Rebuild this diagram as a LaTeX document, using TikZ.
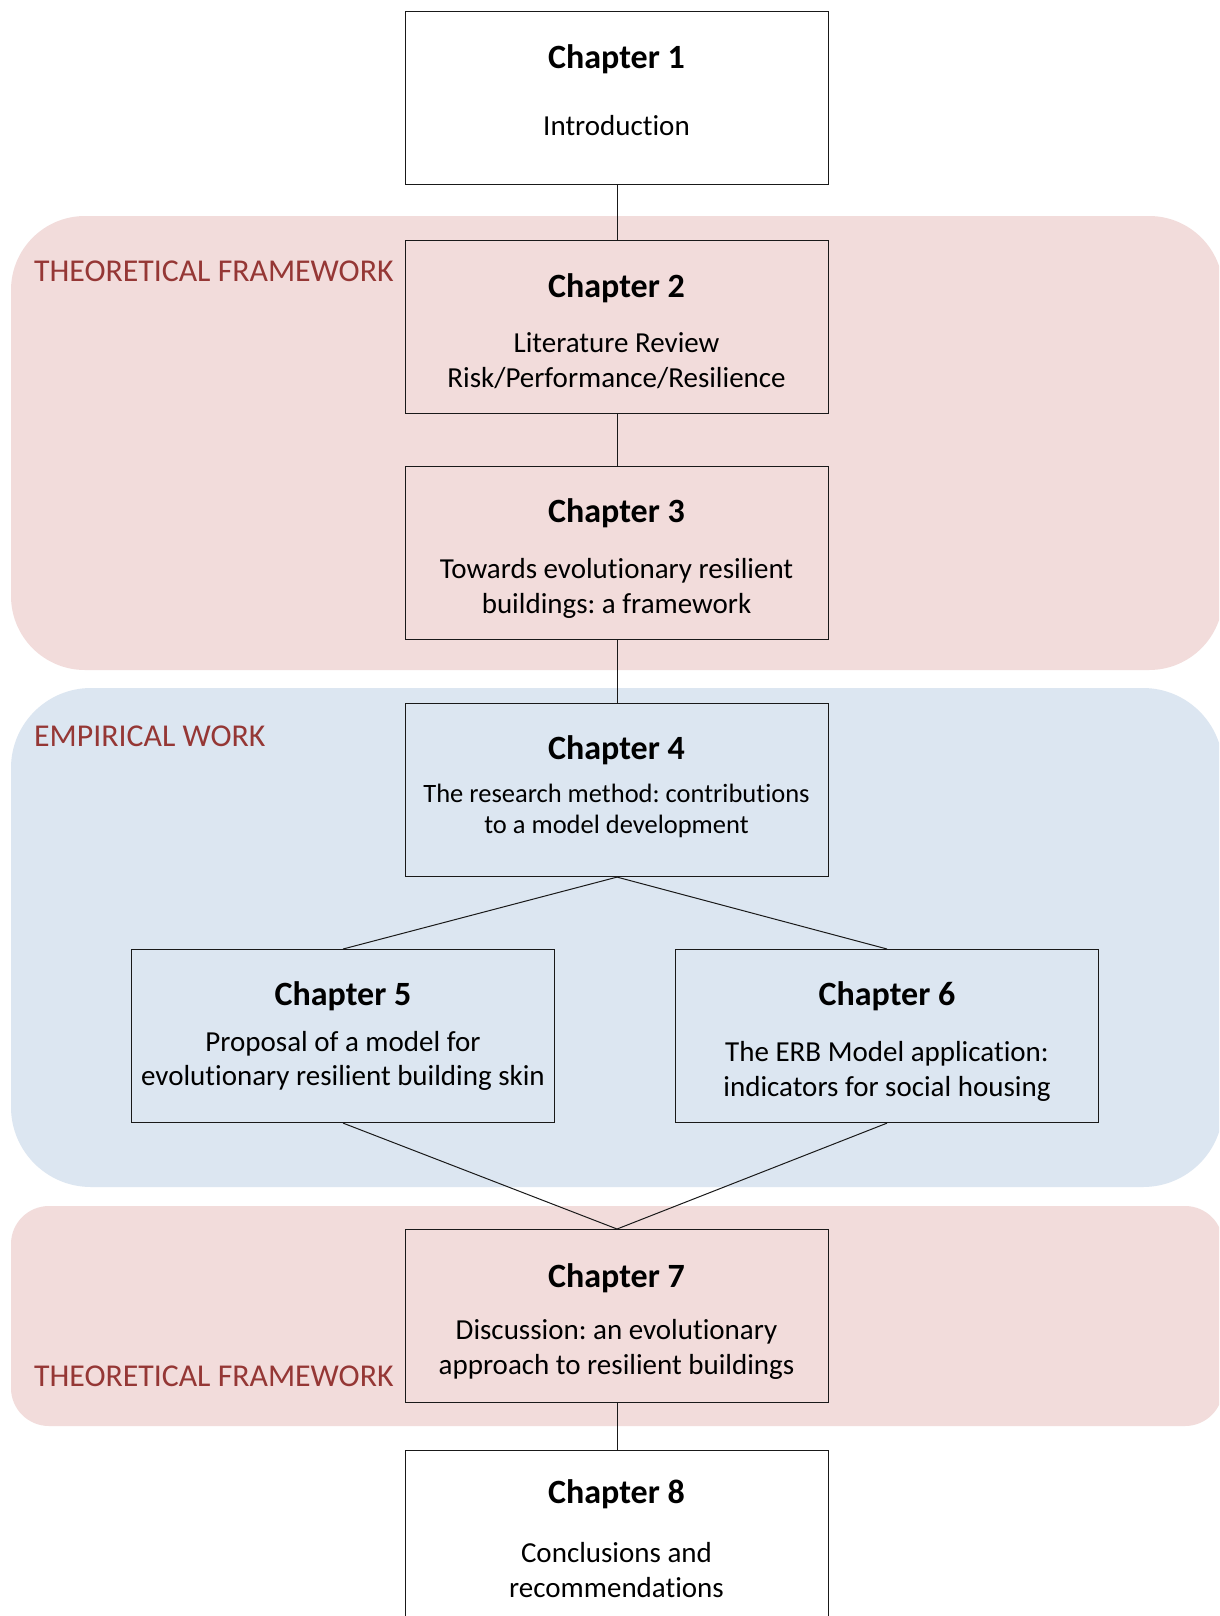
\documentclass[tikz,border=0pt]{standalone}
\usepackage{fontspec}
\setmainfont{Carlito}[Ligatures={NoCommon}]
\definecolor{pinkbg}{HTML}{F2DCDB}
\definecolor{bluebg}{HTML}{DCE6F1}
\definecolor{labred}{HTML}{953735}
\frenchspacing
\tikzset{
  chbox/.style={draw=black!90, line width=1.1pt, minimum width=423pt, minimum height=173pt, inner sep=0pt, anchor=north west},
  title/.style={font=\frenchspacing\bfseries\fontsize{34}{40}\selectfont, anchor=base, inner sep=0pt},
  body/.style={font=\frenchspacing\fontsize{29}{35}\selectfont, anchor=base, inner sep=0pt},
  smallbody/.style={font=\frenchspacing\fontsize{26.5}{32}\selectfont, anchor=base, inner sep=0pt},
  region/.style={font=\fontsize{31.8}{38}\selectfont, text=labred, anchor=base west, inner sep=0pt},
  conn/.style={draw=black!90, line width=1pt}
}
\begin{document}
\begin{tikzpicture}[x=1pt,y=-1pt]
\clip (0,0) rectangle (1219,1616);
\fill[white] (0,0) rectangle (1219,1616);
% background regions
\fill[pinkbg, rounded corners=74pt] (11,216) rectangle (1223,670);
\fill[bluebg, rounded corners=80pt] (11,688) rectangle (1223,1187);
\fill[pinkbg, rounded corners=38pt] (11,1206) rectangle (1223,1426);
\node[region] (lab1) at (34,281) {THEORETICAL FRAMEWORK};
\node[region] (lab2) at (34,746) {EMPIRICAL WORK};
\node[region] (lab3) at (34,1386) {THEORETICAL FRAMEWORK};
% boxes
\node[chbox, fill=white] (b1) at (405,11) {};
\node[chbox] (b2) at (405,240) {};
\node[chbox] (b3) at (405,466) {};
\node[chbox] (b4) at (405,703) {};
\node[chbox] (b5) at (131,949) {};
\node[chbox] (b6) at (675,949) {};
\node[chbox] (b7) at (405,1229) {};
\node[chbox, fill=white, minimum height=180pt] (b8) at (405,1450) {};
% connectors
\draw[conn] (b1.south) -- (b2.north);
\draw[conn] (b2.south) -- (b3.north);
\draw[conn] (b3.south) -- (b4.north);
\draw[conn] (b4.south) -- (b5.north);
\draw[conn] (b4.south) -- (b6.north);
\draw[conn] (b5.south) -- (b7.north);
\draw[conn] (b6.south) -- (b7.north);
\draw[conn] (b7.south) -- (b8.north);
% texts
\node[title] (t1) at (616.5,69) {Chapter 1};
\node[body] (t1a) at (616.5,136) {Introduction};
\node[title] (t2) at (616.5,297) {Chapter 2};
\node[body] (t2a) at (616.5,352) {Literature Review};
\node[body] (t2b) at (616.5,387) {Risk/Performance/Resilience};
\node[title] (t3) at (616.5,522) {Chapter 3};
\node[body] (t3a) at (616.5,578) {Towards evolutionary resilient};
\node[body] (t3b) at (616.5,613) {buildings: a framework};
\node[title] (t4) at (616.5,759) {Chapter 4};
\node[smallbody] (t4a) at (616.5,802) {The research method: contributions};
\node[smallbody] (t4b) at (616.5,833) {to a model development};
\node[title] (t5) at (343,1005) {Chapter 5};
\node[body] (t5a) at (343,1051) {Proposal of a model for};
\node[body] (t5b) at (343,1085) {evolutionary resilient building skin};
\node[title] (t6) at (887,1005) {Chapter 6};
\node[body] (t6a) at (887,1061) {The ERB Model application:};
\node[body] (t6b) at (887,1096) {indicators for social housing};
\node[title] (t7) at (616.5,1287) {Chapter 7};
\node[body] (t7a) at (616.5,1339) {Discussion: an evolutionary};
\node[body] (t7b) at (616.5,1374) {approach to resilient buildings};
\node[title] (t8) at (616.5,1503) {Chapter 8};
\node[body] (t8a) at (616.5,1562) {Conclusions and};
\node[body] (t8b) at (616.5,1597) {recommendations};
\end{tikzpicture}
\end{document}
